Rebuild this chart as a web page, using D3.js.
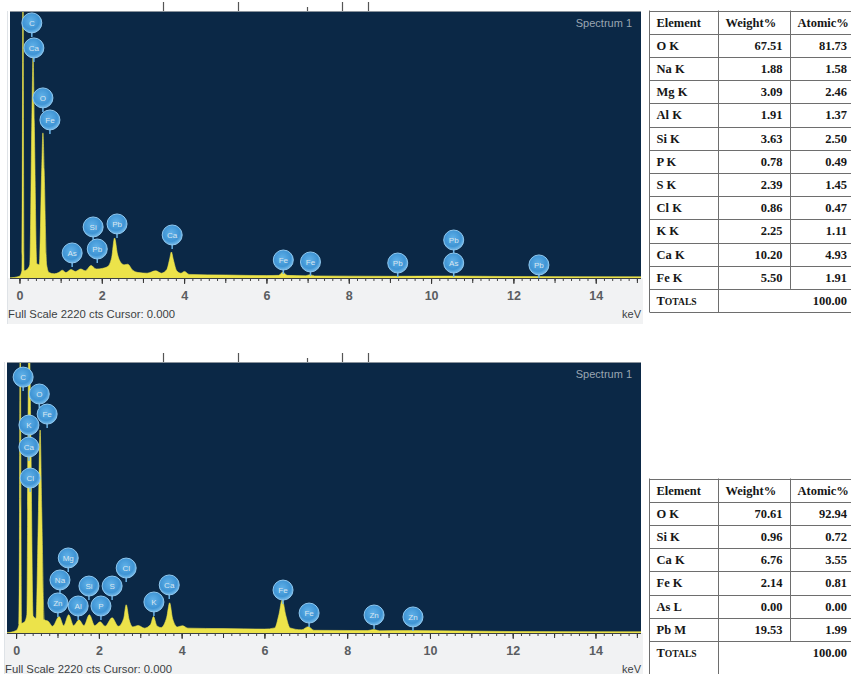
<!DOCTYPE html>
<html>
<head>
<meta charset="utf-8">
<script src="https://cdn.jsdelivr.net/npm/d3@7"></script>
<style>
  body { margin: 0; background: #fff; }
  svg { display: block; }
</style>
</head>
<body>
<svg id="chart" width="851" height="674"></svg>
<script>
// ---- data ----
const fullScale = 2220;
const tickLabels = [0, 2, 4, 6, 8, 10, 12, 14];

// spectrum outline, [keV, counts]
const spectrum1 = [
  [-0.25, 0], [0.0, 15], [0.06, 60], [0.085, 2600], [0.11, 60], [0.18, 70], [0.25, 110],
  [0.30, 1300], [0.33, 1845], [0.36, 1300], [0.42, 120], [0.48, 110], [0.54, 900],
  [0.57, 1211], [0.60, 900], [0.66, 110], [0.72, 45], [0.85, 35], [0.95, 45], [1.04, 65],
  [1.13, 45], [1.25, 70], [1.36, 55], [1.49, 75], [1.60, 60], [1.74, 105], [1.86, 75],
  [2.01, 80], [2.14, 95], [2.24, 170], [2.31, 334], [2.38, 200], [2.46, 130], [2.55, 110],
  [2.63, 115], [2.75, 65], [2.90, 45], [3.10, 40], [3.31, 60], [3.45, 40], [3.58, 70],
  [3.65, 160], [3.69, 217], [3.74, 150], [3.82, 60], [3.92, 40], [4.01, 55], [4.12, 30],
  [5.0, 25], [6.0, 20], [6.3, 22], [6.40, 50], [6.5, 22], [6.95, 18], [7.06, 28], [7.17, 17],
  [9.0, 14], [10.5, 16], [12.0, 12], [15.3, 10]
];
const spectrum2 = [
  [-0.25, 0], [0.0, 20], [0.07, 70], [0.10, 2600], [0.13, 80], [0.20, 90], [0.26, 150],
  [0.29, 1800], [0.31, 2600], [0.35, 1800], [0.41, 140], [0.48, 120], [0.54, 1000],
  [0.58, 1669], [0.62, 1000], [0.68, 110], [0.78, 95], [0.88, 55], [1.04, 135], [1.15, 60],
  [1.27, 150], [1.39, 60], [1.52, 108], [1.64, 60], [1.77, 150], [1.90, 60], [2.03, 92],
  [2.15, 55], [2.32, 125], [2.47, 55], [2.60, 120], [2.66, 232], [2.73, 110], [2.82, 50],
  [2.95, 62], [3.10, 40], [3.25, 70], [3.32, 135], [3.40, 60], [3.50, 45], [3.64, 130],
  [3.71, 248], [3.78, 120], [3.90, 50], [4.02, 60], [4.15, 40], [5.0, 36], [6.0, 32],
  [6.25, 42], [6.35, 150], [6.43, 272], [6.52, 140], [6.62, 42], [6.9, 26], [7.06, 52],
  [7.2, 22], [8.5, 20], [8.64, 28], [8.78, 18], [9.57, 20], [12.0, 12], [15.3, 10]
];

// peak markers, [name, keV, counts at marker centre]
const labels1 = [
  ["C", 0.30, 2129], ["Ca", 0.35, 1920], ["O", 0.57, 1503], ["Fe", 0.74, 1319],
  ["As", 1.28, 209], ["Si", 1.79, 426], ["Pb", 1.89, 242], ["Pb", 2.37, 451],
  ["Ca", 3.71, 359], ["Fe", 6.41, 150], ["Fe", 7.07, 134], ["Pb", 9.19, 125],
  ["Pb", 10.55, 317], ["As", 10.55, 125], ["Pb", 12.62, 109]
];
const labels2 = [
  ["C", 0.17, 2104], ["O", 0.56, 1965], ["Fe", 0.75, 1800], ["K", 0.31, 1710],
  ["Ca", 0.31, 1529], ["Cl", 0.34, 1274], ["Mg", 1.26, 617], ["Na", 1.06, 436],
  ["Zn", 1.01, 247], ["Al", 1.50, 222], ["Si", 1.76, 386], ["P", 2.05, 222],
  ["S", 2.32, 386], ["Cl", 2.66, 534], ["K", 3.33, 255], ["Ca", 3.70, 395],
  ["Fe", 6.45, 353], ["Fe", 7.08, 164], ["Zn", 8.65, 148], ["Zn", 9.59, 132]
];

const headers = ["Element", "Weight%", "Atomic%"];
const elements1 = ["O K", "Na K", "Mg K", "Al K", "Si K", "P K", "S K", "Cl K", "K K", "Ca K", "Fe K"];
const weight1 = ["67.51", "1.88", "3.09", "1.91", "3.63", "0.78", "2.39", "0.86", "2.25", "10.20", "5.50"];
const atomic1 = ["81.73", "1.58", "2.46", "1.37", "2.50", "0.49", "1.45", "0.47", "1.11", "4.93", "1.91"];
const elements2 = ["O K", "Si K", "Ca K", "Fe K", "As L", "Pb M"];
const weight2 = ["70.61", "0.96", "6.76", "2.14", "0.00", "19.53"];
const atomic2 = ["92.94", "0.72", "3.55", "0.81", "0.00", "1.99"];
const total1 = "100.00";
const total2 = "100.00";

// ---- drawing ----
const svg = d3.select("#chart");
const defs = svg.append("defs");
const grad = defs.append("radialGradient").attr("id", "ball")
  .attr("cx", "45%").attr("cy", "40%").attr("r", "60%");
grad.append("stop").attr("offset", "0%").attr("stop-color", "#5fb0e8");
grad.append("stop").attr("offset", "70%").attr("stop-color", "#3f94d4");
grad.append("stop").attr("offset", "100%").attr("stop-color", "#76bceb");

function drawSpectrum(cfg, id) {
  const g = svg.append("g");
  const x = d3.scaleLinear().domain(cfg.domain).range([cfg.left, cfg.right]);
  const y = d3.scaleLinear().domain([0, fullScale]).range([cfg.bottom, cfg.top]);

  // axis strip and plot background
  g.append("rect").attr("x", cfg.left - 2).attr("y", cfg.bottom)
    .attr("width", cfg.right - cfg.left + 4).attr("height", 46).attr("fill", "#f1f2f3");
  g.append("line").attr("x1", cfg.left - 2.5).attr("x2", cfg.left - 2.5)
    .attr("y1", cfg.top - 1).attr("y2", cfg.bottom + 46).attr("stroke", "#dfe3e7");
  g.append("rect").attr("x", cfg.left).attr("y", cfg.top)
    .attr("width", cfg.right - cfg.left).attr("height", cfg.bottom - cfg.top)
    .attr("fill", "#0b2846");
  g.append("line").attr("x1", cfg.left).attr("x2", cfg.right)
    .attr("y1", cfg.top - 0.5).attr("y2", cfg.top - 0.5).attr("stroke", "#8a939c");

  defs.append("clipPath").attr("id", id).append("rect")
    .attr("x", cfg.left).attr("y", cfg.top)
    .attr("width", cfg.right - cfg.left).attr("height", cfg.bottom - cfg.top);

  const area = d3.area()
    .x(d => x(d[0])).y0(y(0)).y1(d => y(d[1]))
    .curve(d3.curveMonotoneX);
  g.append("path").datum(cfg.data)
    .attr("clip-path", `url(#${id})`)
    .attr("d", area)
    .attr("fill", "#ece34a").attr("stroke", "#ece34a").attr("stroke-width", 0.6);

  g.append("text").attr("x", cfg.right - 9).attr("y", cfg.top + 15)
    .attr("text-anchor", "end")
    .attr("font-family", "Liberation Sans, Arial, sans-serif").attr("font-size", 11)
    .attr("fill", "#9aa6b2").text("Spectrum 1");

  // peak markers
  const lab = g.append("g").attr("clip-path", `url(#${id})`)
    .selectAll("g").data(cfg.labels).join("g")
    .attr("transform", d => `translate(${x(d[1])},${y(d[2])})`);
  lab.append("line").attr("y1", 9).attr("y2", 14)
    .attr("stroke", "#6cb4e8").attr("stroke-width", 1.5);
  lab.append("circle").attr("r", 10).attr("fill", "url(#ball)")
    .attr("stroke", "#8fc8f0").attr("stroke-width", 1);
  lab.append("text").attr("text-anchor", "middle").attr("dy", "0.35em")
    .attr("font-family", "Liberation Sans, Arial, sans-serif").attr("font-size", 8)
    .attr("fill", "#d9e6f0").text(d => d[0]);

  // x axis
  const minor = d3.range(0, 15.01, 0.2);
  g.append("g").attr("transform", `translate(0,${cfg.bottom})`)
    .call(d3.axisBottom(x).tickValues(minor).tickSize(3).tickFormat(""))
    .call(a => a.select(".domain").remove())
    .selectAll("line").attr("stroke", "#444");
  g.append("g").attr("transform", `translate(0,${cfg.bottom})`)
    .call(d3.axisBottom(x).tickValues(d3.range(0, 15.01, 1)).tickSize(5).tickFormat(""))
    .call(a => a.select(".domain").remove())
    .selectAll("line").attr("stroke", "#333");
  const ax = g.append("g").attr("transform", `translate(0,${cfg.bottom})`)
    .call(d3.axisBottom(x).tickValues(tickLabels).tickSize(6).tickPadding(7).tickFormat(d3.format("d")));
  ax.select(".domain").remove();
  ax.selectAll("line").attr("stroke", "#333");
  ax.selectAll("text").attr("font-family", "Liberation Sans, Arial, sans-serif")
    .attr("font-size", 12.5).attr("font-weight", "bold").attr("fill", "#5a5d61");
  g.append("line").attr("x1", cfg.left).attr("x2", cfg.right)
    .attr("y1", cfg.bottom + 0.5).attr("y2", cfg.bottom + 0.5).attr("stroke", "#3a3f44");

  g.append("text").attr("x", cfg.left - 2).attr("y", cfg.bottom + 40)
    .attr("font-family", "Liberation Sans, Arial, sans-serif").attr("font-size", 11.3)
    .attr("fill", "#3c3f43").text(`Full Scale ${fullScale} cts Cursor: 0.000`);
  g.append("text").attr("x", cfg.right).attr("y", cfg.bottom + 40).attr("text-anchor", "end")
    .attr("font-family", "Liberation Sans, Arial, sans-serif").attr("font-size", 11)
    .attr("fill", "#3c3f43").text("keV");

  // stray marks above the window
  g.selectAll(".stray").data([163, 238, 307, 342, 368]).join("line")
    .attr("x1", d => d + 0.5).attr("x2", d => d + 0.5)
    .attr("y1", (d, i) => cfg.top - (i === 2 ? 5 : 10)).attr("y2", cfg.top - 1)
    .attr("stroke", "#555").attr("stroke-width", 1.2);
}

drawSpectrum({ left: 10, right: 641, top: 12, bottom: 278, domain: [-0.23, 15.1],
  data: spectrum1, labels: labels1 }, "clip1");
drawSpectrum({ left: 7, right: 641, top: 363, bottom: 633, domain: [-0.22, 15.1],
  data: spectrum2, labels: labels2 }, "clip2");

function drawTable(top, elements, weight, atomic, total, lastH) {
  const g = svg.append("g")
    .attr("font-family", "Liberation Serif, Times New Roman, serif")
    .attr("font-weight", "bold").attr("font-size", 12.5).attr("fill", "#161616");
  const cols = [649.5, 718.5, 790.5, 853];
  const rh = 23.2;
  const nRows = elements.length + 2;
  const rowTop = i => top + i * rh;
  const bottom = rowTop(nRows - 1) + lastH;
  const stroke = "#6e6e6e";

  // horizontal rules
  for (let i = 0; i < nRows; i++) {
    g.append("line").attr("x1", cols[0]).attr("x2", cols[3])
      .attr("y1", Math.round(rowTop(i)) + 0.5).attr("y2", Math.round(rowTop(i)) + 0.5)
      .attr("stroke", stroke);
  }
  g.append("line").attr("x1", cols[0]).attr("x2", cols[3])
    .attr("y1", Math.round(bottom) + 0.5).attr("y2", Math.round(bottom) + 0.5).attr("stroke", stroke);
  // vertical rules
  [cols[0], cols[1]].forEach(c => g.append("line").attr("x1", c).attr("x2", c)
    .attr("y1", top).attr("y2", bottom).attr("stroke", stroke));
  g.append("line").attr("x1", cols[2]).attr("x2", cols[2])
    .attr("y1", top).attr("y2", rowTop(nRows - 1)).attr("stroke", stroke);

  const base = i => rowTop(i) + rh / 2 + 4.5;
  headers.forEach((h, j) => g.append("text").attr("x", cols[j] + 7).attr("y", base(0)).text(h));
  elements.forEach((e, i) => {
    g.append("text").attr("x", cols[0] + 7).attr("y", base(i + 1)).text(e);
    g.append("text").attr("x", cols[2] - 8).attr("y", base(i + 1)).attr("text-anchor", "end").text(weight[i]);
    g.append("text").attr("x", cols[3] - 6).attr("y", base(i + 1)).attr("text-anchor", "end").text(atomic[i]);
  });
  const tr = nRows - 1;
  const t = g.append("text").attr("x", cols[0] + 7).attr("y", base(tr));
  t.append("tspan").text("T");
  t.append("tspan").attr("font-size", 9.6).text("OTALS");
  g.append("text").attr("x", cols[3] - 6).attr("y", base(tr)).attr("text-anchor", "end").text(total);
}

drawTable(10.5, elements1, weight1, atomic1, total1, 23.2);
drawTable(478.5, elements2, weight2, atomic2, total2, 40);
</script>
</body>
</html>
